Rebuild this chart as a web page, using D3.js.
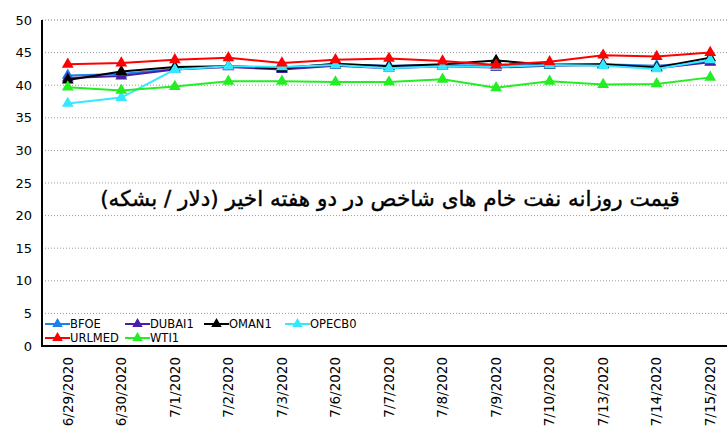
<!DOCTYPE html>
<html><head><meta charset="utf-8">
<script src="https://cdn.jsdelivr.net/npm/d3@7"></script>
<style>body{margin:0;background:#fff}svg{display:block}</style>
</head><body>
<script>
const dates = ["6/29/2020","6/30/2020","7/1/2020","7/2/2020","7/3/2020","7/6/2020","7/7/2020","7/8/2020","7/9/2020","7/10/2020","7/13/2020","7/14/2020","7/15/2020"];
const seriesNames = ["BFOE","DUBAI1","OMAN1","OPECB0","URLMED","WTI1"];
const seriesColors = ["#1f7fe8","#4a1fa8","#000000","#33e8ff","#ff0000","#22ee22"];
const BFOE   = [41.5,41.7,42.5,42.9,42.7,43.2,43.0,43.1,43.0,43.2,43.2,43.0,43.6];
const DUBAI1 = [41.1,41.4,42.4,42.8,42.4,43.0,42.6,42.9,42.7,43.0,43.1,42.6,43.5];
const OMAN1  = [40.8,42.1,42.8,42.9,42.6,43.3,42.9,43.2,43.8,43.1,43.2,42.7,44.2];
const OPECB0 = [37.2,38.1,42.4,42.9,42.8,43.1,42.6,42.9,42.8,43.1,43.0,42.5,43.9];
const URLMED = [43.2,43.4,43.9,44.2,43.4,43.9,44.1,43.7,43.1,43.6,44.6,44.4,45.0];
const WTI1   = [39.7,39.2,39.8,40.6,40.6,40.5,40.5,40.9,39.6,40.6,40.1,40.2,41.2];
const yTicks = [0,5,10,15,20,25,30,35,40,45,50];
const title = "قیمت روزانه نفت خام های شاخص در دو هفته اخیر (دلار / بشکه)";

const seriesValues = [BFOE,DUBAI1,OMAN1,OPECB0,URLMED,WTI1];
const W = 727, H = 443;
const svg = d3.select("body").append("svg").attr("width",W).attr("height",H);
const x = d3.scaleBand().domain(dates).range([41,737]).padding(0);
const y = d3.scaleLinear().domain([0,50]).range([346,20]);
const cx = d => x(d) + x.bandwidth()/2;

// grid
svg.append("g").selectAll("line").data(yTicks.filter(t=>t>0)).join("line")
  .attr("x1",42).attr("x2",W).attr("y1",d=>y(d)).attr("y2",d=>y(d))
  .attr("stroke",d=>d===50?"#777":"#999").attr("stroke-width",1).attr("stroke-dasharray","1,2");

// y axis
const ya = svg.append("g").attr("transform","translate(42,0)")
  .call(d3.axisLeft(y).tickValues(yTicks).tickSize(0).tickPadding(10));
ya.select(".domain").remove();
ya.selectAll("text").attr("font-family","DejaVu Sans").attr("font-size",13).attr("fill","#000");
svg.append("line").attr("x1",42).attr("x2",42).attr("y1",20).attr("y2",347).attr("stroke","#000").attr("stroke-width",2);

// x axis
const xa = svg.append("g").attr("transform","translate(0,346)")
  .call(d3.axisBottom(x).tickSize(0));
xa.select(".domain").remove();
xa.selectAll("text").attr("font-family","DejaVu Sans").attr("font-size",13.5).attr("fill","#000")
  .attr("text-anchor","end").attr("dy","0.35em")
  .attr("transform","translate(0,11) rotate(-90)").attr("x",0).attr("y",0);
svg.append("line").attr("x1",41).attr("x2",W).attr("y1",346).attr("y2",346).attr("stroke","#000").attr("stroke-width",2);

// title
svg.append("text").attr("x",390).attr("y",206).attr("text-anchor","middle")
  .attr("font-family","DejaVu Sans").attr("font-size",21.5).attr("direction","rtl")
  .attr("stroke","#000").attr("stroke-width",0.4)
  .text(title);

const tri = d3.symbol().type(d3.symbolTriangle);
const line = d3.line().x((d,i)=>cx(dates[i])).y(d=>y(d));
seriesValues.forEach((vals,k)=>{
  const g = svg.append("g");
  g.append("path").attr("d",line(vals)).attr("fill","none").attr("stroke",seriesColors[k]).attr("stroke-width",2);
  g.selectAll("path.m").data(vals).join("path").attr("class","m")
    .attr("d",tri.size(60)()).attr("transform",(d,i)=>`translate(${cx(dates[i])},${y(d)})`)
    .attr("fill",seriesColors[k]);
});

// legend
const legPos = [[45,324],[125,324],[204,324],[285,324],[45,338],[125,338]];
seriesNames.forEach((n,k)=>{
  const [lx,ly] = legPos[k];
  const g = svg.append("g");
  g.append("line").attr("x1",lx).attr("x2",lx+25).attr("y1",ly).attr("y2",ly).attr("stroke",seriesColors[k]).attr("stroke-width",2);
  g.append("path").attr("d",tri.size(48)()).attr("transform",`translate(${lx+12.5},${ly})`).attr("fill",seriesColors[k]);
  g.append("text").attr("x",lx+25).attr("y",ly).attr("dy","0.35em").attr("font-family","DejaVu Sans").attr("font-size",11.5).text(n);
});
</script>
</body></html>
